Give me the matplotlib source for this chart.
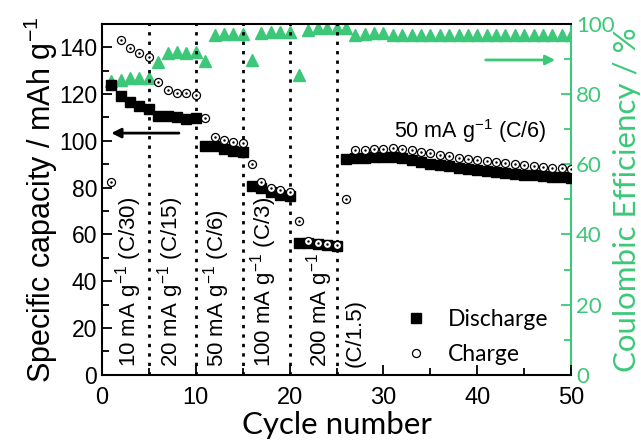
import numpy as np
import matplotlib.pyplot as plt

# data
cycles = np.arange(1, 51)
discharge = [124, 119, 116.8, 115, 113.7, 110.4, 110.4, 110, 109.5, 109.7,
             97.6, 97.6, 96.4, 95.8, 95.4, 80.9, 79.8, 78, 77, 76.5,
             56.5, 56.4, 56, 55.5, 55,
             92.2, 92.6, 92.6, 93.2, 93.3, 93.2, 92.6, 91.8, 91.0, 90.2,
             89.6, 89.1, 88.6, 88.0, 87.4, 87.0, 86.6, 86.2, 85.9, 85.6,
             85.3, 85.0, 84.7, 84.4, 84.1]
charge = [82.2, 142.9, 139.6, 137.5, 135.7, 125.3, 121.8, 120.6, 120.6, 119.7,
          109.7, 101.5, 100.4, 99.7, 99.0, 90.2, 82.2, 79.7, 78.8, 78.0,
          65.9, 57.3, 56.3, 55.8, 55.5,
          75.0, 96.2, 96.2, 96.4, 96.6, 97.0, 96.5, 95.9, 95.2, 94.6,
          94.0, 93.4, 92.8, 92.2, 91.7, 91.2, 90.8, 90.4, 90.0, 89.6,
          89.2, 88.9, 88.6, 88.3, 88.0]
efficiency = [83.6, 84.0, 84.5, 84.5, 84.5, 89.0, 91.8, 92.1, 91.8, 92.1,
              89.5, 96.9, 97.0, 97.0, 97.0, 89.7, 97.3, 97.8, 97.6, 97.8,
              85.5, 98.3, 98.7, 98.7, 98.7,
              98.7, 96.9, 97.0, 97.3, 97.4, 96.9, 96.9, 96.9, 96.9, 96.9,
              96.9, 96.9, 96.9, 96.9, 96.9, 96.9, 96.9, 96.9, 96.9, 96.9,
              96.9, 96.9, 96.9, 96.9, 96.9]
rate_changes = [5, 10, 15, 20, 25]
rate_labels = [r'10 mA g$^{-1}$ (C/30)', r'20 mA g$^{-1}$ (C/15)',
               r'50 mA g$^{-1}$ (C/6)', r'100 mA g$^{-1}$ (C/3)',
               '200 mA g$^{-1}$\n(C/1.5)']
label_x = [2.8, 7.3, 12.2, 17.2, 24.85]

green = '#3cc878'
plt.rcParams['font.family'] = 'Liberation Sans'
plt.rcParams['mathtext.fontset'] = 'custom'
plt.rcParams['mathtext.rm'] = 'Liberation Sans'

fig = plt.figure(figsize=(6.41, 4.41), dpi=100)
ax = fig.add_axes([0.159, 0.150, 0.732, 0.796])
ax2 = ax.twinx()

ax2.plot(cycles, efficiency, '^', color=green, ms=9, mec=green, zorder=1)
ax.set_zorder(ax2.get_zorder() + 1)
ax.patch.set_visible(False)

for xc in rate_changes:
    ax.axvline(xc, color='k', ls=(0, (1.2, 2.2)), lw=2, zorder=1)

ax.plot(cycles, discharge, 's', color='k', ms=7.5, label='Discharge', zorder=3)
ax.plot(cycles, charge, 'o', mfc='white', mec='k', mew=0.9, ms=5.8, zorder=4)
ax.plot(cycles, charge, '.', color='k', ms=1.5, zorder=5)
# legend handle for charge
ax.plot([], [], 'o', mfc='white', mec='k', mew=0.9, ms=5.8, label='Charge')

for xl, txt in zip(label_x, rate_labels):
    ax.text(xl, 3.5, txt, rotation=90, ha='center', va='bottom', fontsize=16,
            linespacing=1.6, multialignment='left')
ax.text(39.2, 104, r'50 mA g$^{-1}$ (C/6)', ha='center', va='center', fontsize=15.5)

ax.annotate('', xy=(0.7, 103.3), xytext=(8.5, 103.3),
            arrowprops=dict(arrowstyle='-|>', color='k', lw=2, mutation_scale=14))
ax2.annotate('', xy=(48.6, 89.7), xytext=(40.6, 89.7),
             arrowprops=dict(arrowstyle='-|>', color=green, lw=2, mutation_scale=14))

ax.set_xlim(0, 50)
ax.set_ylim(0, 150)
ax2.set_ylim(0, 100)
ax.set_xticks([0, 10, 20, 30, 40, 50])
ax.set_xticks(np.arange(5, 50, 10), minor=True)
ax.set_yticks(np.arange(0, 141, 20))
ax.set_yticks(np.arange(10, 150, 20), minor=True)
ax2.set_yticks(np.arange(0, 101, 20))
ax2.set_yticks(np.arange(10, 100, 20), minor=True)

ax.tick_params(which='both', direction='in', labelsize=17, width=1.3)
ax.tick_params(axis='x', pad=9)
ax.tick_params(axis='y', labelsize=16.5)
ax.tick_params(which='major', length=7)
ax.tick_params(which='minor', length=5)
ax.tick_params(axis='y', which='both', right=False)
ax2.tick_params(which='both', direction='in', labelsize=16, colors=green, width=1.3)
ax2.tick_params(which='major', length=7)
ax2.tick_params(which='minor', length=5)
for lbl in ax2.get_yticklabels():
    lbl.set_family('Lato')
for s in ['left', 'bottom', 'top']:
    ax.spines[s].set_linewidth(1.5)
ax.spines['right'].set_visible(False)
ax2.spines['right'].set_color(green)
ax2.spines['right'].set_linewidth(1.5)
for s in ['left', 'bottom', 'top']:
    ax2.spines[s].set_visible(False)

ax.set_xlabel('Cycle number', fontsize=22.5, family='Lato', labelpad=1)
ax.set_ylabel('Specific capacity / mAh g$^{-1}$', fontsize=22, labelpad=-1)
ax2.set_ylabel('Coulombic Efficiency / %', fontsize=22.5, family='Lato',
               color=green, labelpad=-1)

leg = ax.legend(loc='lower right', bbox_to_anchor=(0.995, -0.03), frameon=False,
                prop={'family': 'Lato', 'size': 16.5}, handletextpad=0.8,
                labelspacing=0.6, handlelength=1.2)

fig.savefig('out.png', dpi=100)
